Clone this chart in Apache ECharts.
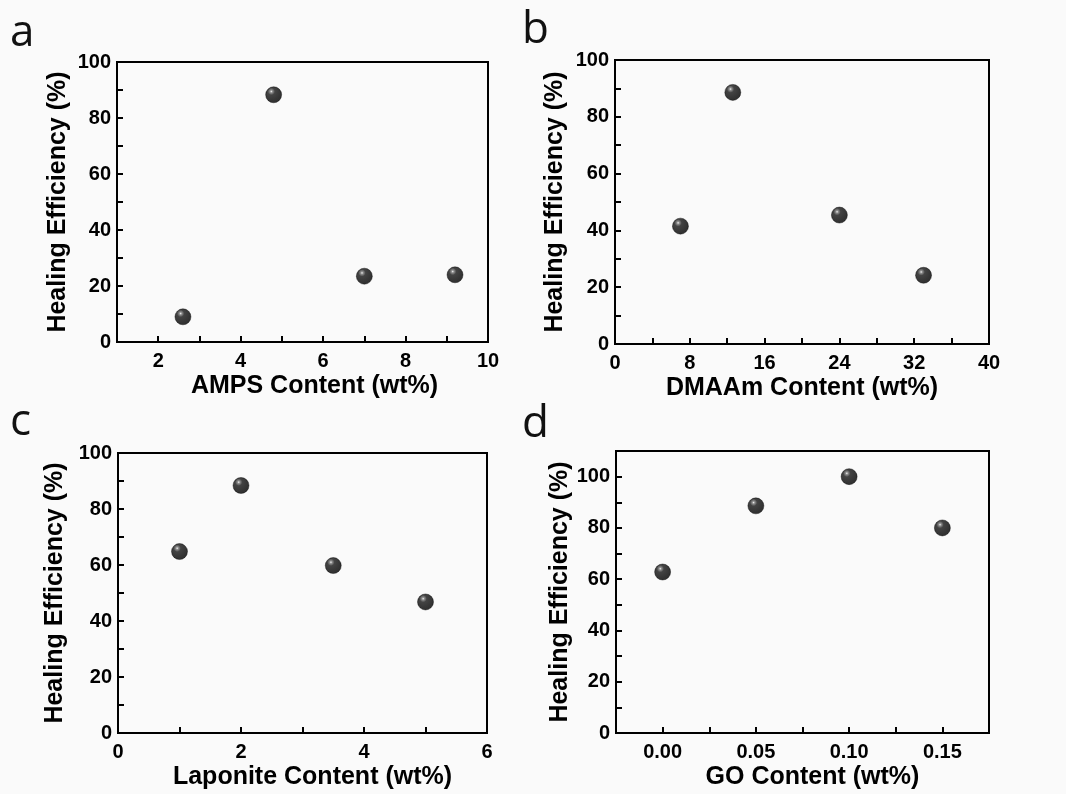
<!DOCTYPE html>
<html>
<head>
<meta charset="utf-8">
<script src="https://cdn.jsdelivr.net/npm/echarts@6/dist/echarts.min.js"></script>
<style>
  html, body { margin: 0; padding: 0; background: #fafafa; }
  #chart { width: 1066px; height: 794px; }
</style>
</head>
<body>
<div id="chart"></div>
<script>
// panel a - AMPS
const ampsX = [2.6, 4.8, 7.0, 9.2];
const ampsY = [9.0, 88.3, 23.5, 24.0];
const ampsTicks = [2, 4, 6, 8, 10];
// panel b - DMAAm
const dmaamX = [7, 12.6, 24, 33];
const dmaamY = [41.5, 88.6, 45.4, 24.2];
const dmaamTicks = [0, 8, 16, 24, 32, 40];
// panel c - Laponite
const lapX = [1, 2, 3.5, 5];
const lapY = [64.8, 88.4, 59.8, 46.8];
const lapTicks = [0, 2, 4, 6];
// panel d - GO
const goX = [0, 0.05, 0.10, 0.15];
const goY = [62.8, 88.6, 100, 80];
const goTicks = [0, 0.05, 0.10, 0.15];
const effTicks = [0, 20, 40, 60, 80, 100];

const yName = "Healing Efficiency (%)";
const font = "'Liberation Sans', Arial, sans-serif";

const chart = echarts.init(document.getElementById("chart"));

// black ball with a small highlight
const sphere = {
  type: "radial", x: 0.36, y: 0.3, r: 0.62,
  colorStops: [
    { offset: 0, color: "#f4f4f4" },
    { offset: 0.12, color: "#777" },
    { offset: 0.35, color: "#151515" },
    { offset: 1, color: "#000" }
  ]
};

function xAx(i, name, min, max, interval, labels, fmt, pad) {
  return {
    type: "value", gridIndex: i, name: name, nameLocation: "middle", nameGap: 32,
    nameTextStyle: { fontFamily: font, fontWeight: "bold", fontSize: 25, color: "#000", padding: [0, 0, 0, pad] },
    min: min, max: max, interval: interval,
    axisLine: { show: true, onZero: false, lineStyle: { color: "#000", width: 2 } },
    axisTick: { show: true, inside: true, length: 6, lineStyle: { color: "#000", width: 2 } },
    axisLabel: {
      customValues: labels, margin: 9, fontFamily: font, fontWeight: "bold", fontSize: 20, color: "#000",
      formatter: fmt || (v => String(v))
    },
    splitLine: { show: false }
  };
}
function yAx(i, max, gap) {
  return {
    type: "value", gridIndex: i, name: yName, nameLocation: "middle", nameGap: gap,
    nameTextStyle: { fontFamily: font, fontWeight: "bold", fontSize: 25, color: "#000" },
    min: 0, max: max, interval: 10,
    axisLine: { show: true, onZero: false, lineStyle: { color: "#000", width: 2 } },
    axisTick: { show: true, inside: true, length: 6, lineStyle: { color: "#000", width: 2 } },
    axisLabel: { customValues: effTicks, margin: 6, fontFamily: font, fontWeight: "bold", fontSize: 20, color: "#000" },
    splitLine: { show: false }
  };
}
function sc(i, xs, ys) {
  return {
    type: "scatter", xAxisIndex: i, yAxisIndex: i, symbolSize: 16,
    itemStyle: { color: sphere, borderColor: "#000", borderWidth: 0.5 },
    data: xs.map((x, k) => [x, ys[k]])
  };
}
const gridStyle = { show: true, borderColor: "#000", borderWidth: 2, backgroundColor: "transparent" };
const letter = (t, l, tp) => ({
  type: "text", left: l, top: tp,
  style: { text: t, fontFamily: "'Open Sans', sans-serif", fontSize: 44, fill: "#111" }
});

chart.setOption({
  backgroundColor: "#fafafa",
  animation: false,
  grid: [
    Object.assign({ left: 117, top: 62, width: 371, height: 280 }, gridStyle),
    Object.assign({ left: 615, top: 60, width: 374, height: 284 }, gridStyle),
    Object.assign({ left: 118, top: 453, width: 369, height: 280 }, gridStyle),
    Object.assign({ left: 616, top: 451, width: 373, height: 282 }, gridStyle)
  ],
  xAxis: [
    xAx(0, "AMPS Content (wt%)", 1, 10, 1, ampsTicks, null, 24),
    xAx(1, "DMAAm Content (wt%)", 0, 40, 4, dmaamTicks, null, 0),
    xAx(2, "Laponite Content (wt%)", 0, 6, 1, lapTicks, null, 20),
    xAx(3, "GO Content (wt%)", -0.025, 0.175, 0.025, goTicks, v => v.toFixed(2), 20)
  ],
  yAxis: [yAx(0, 100, 46), yAx(1, 100, 47), yAx(2, 100, 50), yAx(3, 110, 43)],
  series: [sc(0, ampsX, ampsY), sc(1, dmaamX, dmaamY), sc(2, lapX, lapY), sc(3, goX, goY)],
  graphic: [letter("a", 10, 11), letter("b", 522, 8), letter("c", 10, 400), letter("d", 522, 402)]
});
</script>
</body>
</html>
